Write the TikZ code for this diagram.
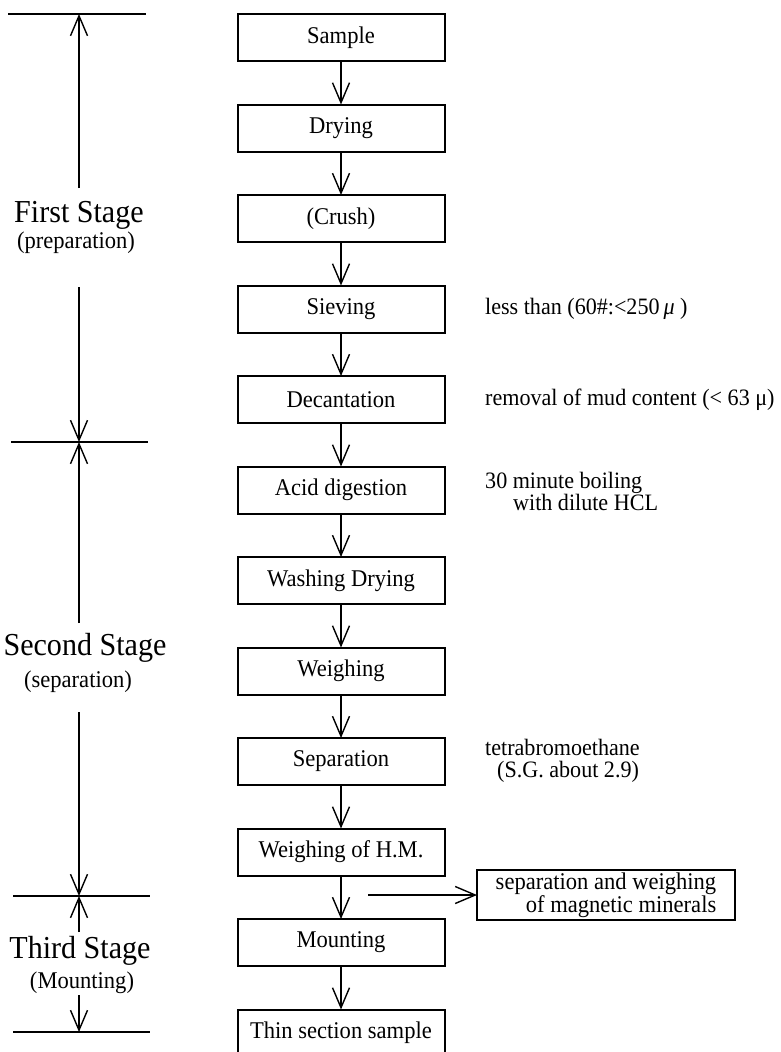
\documentclass[tikz,border=0pt]{standalone}
\usepackage{fontspec}
\setmainfont{Liberation Serif}[FakeStretch=0.94]
\usepackage{tikz}
\usetikzlibrary{positioning, arrows.meta}

\begin{document}
\begin{tikzpicture}[x=1pt, y=1pt, node distance=43.5pt,
  box/.style={draw, line width=2pt, minimum width=207pt, minimum height=47pt,
    inner sep=0pt, outer sep=0pt, font=\fontsize{24}{22}\selectfont},
  flow/.style={-{Straight Barb[length=20pt, width=17pt]}, line width=1.4pt},
  rule/.style={line width=1.9pt},
  note/.style={anchor=west, align=left, inner sep=0pt, font=\fontsize{23.5}{22}\selectfont},
  stage/.style={inner sep=0pt, font=\fontsize{32}{34}\selectfont},
  sub/.style={inner sep=0pt, font=\fontsize{24}{24}\selectfont}]
  \useasboundingbox (0,0) rectangle (780,-1052);
  % Main flow
  \node[box] (sample) at (341,-37.5) {Sample};
  \node[box, below=of sample] (drying) {Drying};
  \node[box, below=of drying] (crush) {(Crush)};
  \node[box, below=of crush] (sieving) {Sieving};
  \node[box, below=of sieving] (decant) {Decantation};
  \node[box, below=of decant] (acid) {Acid digestion};
  \node[box, below=of acid] (washing) {Washing Drying};
  \node[box, below=of washing] (weighing) {Weighing};
  \node[box, below=of weighing] (separation) {Separation};
  \node[box, below=of separation] (weighhm) {Weighing of H.M.};
  \node[box, below=of weighhm] (mounting) {Mounting};
  \node[box, below=of mounting] (thin) {Thin section sample};
  \foreach \a/\b in {sample/drying, drying/crush, crush/sieving, sieving/decant,
    decant/acid, acid/washing, washing/weighing, weighing/separation,
    separation/weighhm, weighhm/mounting, mounting/thin}
    \draw[flow] (\a) -- (\b);
  % Side branch
  \node[box, minimum width=258pt, minimum height=50pt, align=right]
    (magnetic) at (606,-895) {separation and weighing\\of magnetic minerals};
  \coordinate (magstart) at (368,-895);
  \draw[flow] (magstart) -- (magnetic);
  % Notes
  \node[note] (sievenote) at (485,-309) {less than (60\#:<250\,\textit{μ} )};
  \node[note] (mudnote) at (485,-400) {removal of mud content (< 63 μ)};
  \node[note] (acidnote) at (485,-491) {30 minute boiling\\\hspace*{28pt}with dilute HCL};
  \node[note] (sepnote) at (485,-761) {tetrabromoethane\\\hspace*{12pt}(S.G. about 2.9)};
  % Stage limits
  \coordinate (t0) at (79,-14);
  \coordinate (t1) at (79,-442);
  \coordinate (t2) at (79,-896);
  \coordinate (t3) at (79,-1032);
  \draw[rule] (t0) ++(-71,0) -- ++(138,0);
  \draw[rule] (t1) ++(-68,0) -- ++(137,0);
  \draw[rule] (t2) ++(-66,0) -- ++(137,0);
  \draw[rule] (t3) ++(-66,0) -- ++(137,0);
  % Stage labels
  \node[stage] (first) at (79,-215) {First Stage};
  \node[sub] (prep) at (76,-243) {(preparation)};
  \node[stage] (second) at (85,-648) {Second Stage};
  \node[sub] (sepsub) at (78,-682) {(separation)};
  \node[stage] (third) at (80,-951) {Third Stage};
  \node[sub] (mountsub) at (82,-983) {(Mounting)};
  % Stage arrows
  \coordinate (a1) at (79,-188);
  \coordinate (a2) at (79,-287);
  \coordinate (a3) at (79,-623);
  \coordinate (a4) at (79,-712);
  \coordinate (a5) at (79,-932);
  \coordinate (a6) at (79,-995);
  \draw[flow] (a1) -- (t0);
  \draw[flow] (a2) -- (t1);
  \draw[flow] (a3) -- (t1);
  \draw[flow] (a4) -- (t2);
  \draw[flow] (a5) -- (t2);
  \draw[flow] (a6) -- (t3);
\end{tikzpicture}
\end{document}
